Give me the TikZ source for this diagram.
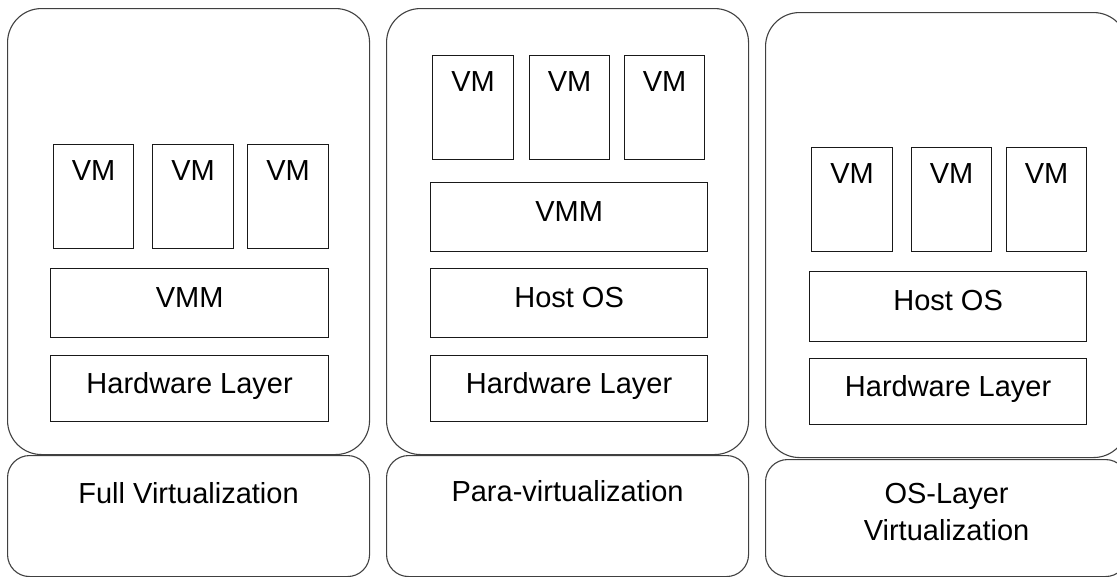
\documentclass[tikz,border=0pt]{standalone}
\usepackage{fontspec}
\setmainfont{Liberation Sans}
\begin{document}
\begin{tikzpicture}[x=1pt,y=-1pt,
  panel/.style={draw=black!75, line width=1.1pt, rounded corners=34pt, anchor=north west, inner sep=0pt},
  captionbox/.style={draw=black!75, line width=1.1pt, rounded corners=22pt, anchor=north west, inner sep=0pt},
  layer/.style={draw=black!90, line width=1.2pt, anchor=north west, inner sep=0pt},
  lbl/.style={font=\fontsize{29}{37}\selectfont, inner sep=0pt, anchor=base},
  captiontext/.style={font=\fontsize{29}{37}\selectfont, inner sep=0pt, anchor=north, align=center}]
\useasboundingbox (0,0) rectangle (1117,576);

% ---------- Full virtualization ----------
\node[panel, minimum width=362pt, minimum height=446pt] (fo) at (7,8) {};
\node[captionbox, minimum width=362pt, minimum height=121pt] (fb) at (7,455) {};
\node[captiontext] (fbt) at ([yshift=-27pt]fb.north) {Full Virtualization};
\node[layer, minimum width=80pt, minimum height=104pt] (fv1) at (53,144) {};
\node[layer, minimum width=81pt, minimum height=104pt] (fv2) at (152,144) {};
\node[layer, minimum width=81pt, minimum height=104pt] (fv3) at (247,144) {};
\node[layer, minimum width=278pt, minimum height=69pt] (fvmm) at (50,268) {};
\node[layer, minimum width=278pt, minimum height=66pt] (fhw) at (50,355) {};
\node[lbl] (fv1t) at ([yshift=-36pt]fv1.north) {VM};
\node[lbl] (fv2t) at ([yshift=-36pt]fv2.north) {VM};
\node[lbl] (fv3t) at ([yshift=-36pt]fv3.north) {VM};
\node[lbl] (fvmmt) at ([yshift=-39pt]fvmm.north) {VMM};
\node[lbl] (fhwt) at ([yshift=-38pt]fhw.north) {Hardware Layer};

% ---------- Para-virtualization ----------
\node[panel, minimum width=362pt, minimum height=446pt] (po) at (386,8) {};
\node[captionbox, minimum width=362pt, minimum height=121pt] (pb) at (386,455) {};
\node[captiontext] (pbt) at ([yshift=-25pt]pb.north) {Para-virtualization};
\node[layer, minimum width=81pt, minimum height=104pt] (pv1) at (432,55) {};
\node[layer, minimum width=80pt, minimum height=104pt] (pv2) at (529,55) {};
\node[layer, minimum width=80pt, minimum height=104pt] (pv3) at (624,55) {};
\node[layer, minimum width=277pt, minimum height=69pt] (pvmm) at (430,182) {};
\node[layer, minimum width=277pt, minimum height=69pt] (phost) at (430,268) {};
\node[layer, minimum width=277pt, minimum height=66pt] (phw) at (430,355) {};
\node[lbl] (pv1t) at ([yshift=-36pt]pv1.north) {VM};
\node[lbl] (pv2t) at ([yshift=-36pt]pv2.north) {VM};
\node[lbl] (pv3t) at ([yshift=-36pt]pv3.north) {VM};
\node[lbl] (pvmmt) at ([yshift=-39pt]pvmm.north) {VMM};
\node[lbl] (phostt) at ([yshift=-39pt]phost.north) {Host OS};
\node[lbl] (phwt) at ([yshift=-38pt]phw.north) {Hardware Layer};

% ---------- OS-layer virtualization ----------
\node[panel, minimum width=362pt, minimum height=445pt] (oo) at (765,12) {};
\node[captionbox, minimum width=362pt, minimum height=117pt] (ob) at (765,459) {};
\node[captiontext] (obt) at ([yshift=-24pt]ob.north) {OS-Layer\\Virtualization};
\node[layer, minimum width=81pt, minimum height=104pt] (ov1) at (811,147) {};
\node[layer, minimum width=80pt, minimum height=104pt] (ov2) at (911,147) {};
\node[layer, minimum width=80pt, minimum height=104pt] (ov3) at (1006,147) {};
\node[layer, minimum width=277pt, minimum height=70pt] (ohost) at (809,271) {};
\node[layer, minimum width=277pt, minimum height=66pt] (ohw) at (809,358) {};
\node[lbl] (ov1t) at ([yshift=-36pt]ov1.north) {VM};
\node[lbl] (ov2t) at ([yshift=-36pt]ov2.north) {VM};
\node[lbl] (ov3t) at ([yshift=-36pt]ov3.north) {VM};
\node[lbl] (ohostt) at ([yshift=-39pt]ohost.north) {Host OS};
\node[lbl] (ohwt) at ([yshift=-38pt]ohw.north) {Hardware Layer};
\end{tikzpicture}
\end{document}
